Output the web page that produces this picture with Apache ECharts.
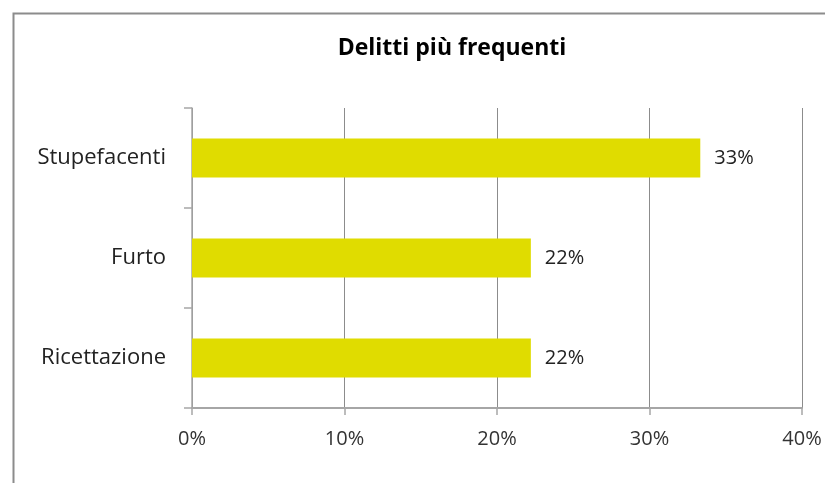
<!DOCTYPE html>
<html><head><meta charset="utf-8">
<script src="https://cdn.jsdelivr.net/npm/echarts@6/dist/echarts.min.js"></script>
<style>html,body{margin:0;padding:0;background:#fff}#c{width:825px;height:483px}</style>
</head><body><div id="c"></div>
<script>
const categories = ['Ricettazione', 'Furto', 'Stupefacenti'];
const values = [22.22, 22.22, 33.33];
const xTicks = [0, 10, 20, 30, 40];
const titleText = 'Delitti più frequenti';

const FONT = '"Open Sans", "Noto Sans", sans-serif';
const chart = echarts.init(document.getElementById('c'), null, {renderer: 'canvas'});
chart.setOption({
  animation: false,
  backgroundColor: '#fff',
  graphic: [{
    type: 'rect', left: 11, top: 11, shape: {width: 900, height: 600},
    style: {fill: 'none', stroke: '#8c8c8c', lineWidth: 2}, silent: true
  }],
  title: {
    text: titleText, left: 447, top: 32, textAlign: 'center',
    textStyle: {fontFamily: FONT, fontSize: 23, fontWeight: 'bold', color: '#000'}
  },
  grid: {left: 192, right: 23, top: 108, bottom: 75, containLabel: false},
  xAxis: {
    type: 'value', min: xTicks[0], max: xTicks[xTicks.length - 1], interval: 10,
    axisLine: {show: true, lineStyle: {color: '#a6a6a6', width: 2}},
    axisTick: {show: true, length: 7, lineStyle: {color: '#a6a6a6', width: 1.5}},
    splitLine: {show: true, lineStyle: {color: '#8c8c8c', width: 1}},
    axisLabel: {fontFamily: FONT, fontSize: 20, color: '#333', margin: 21, formatter: v => v + '%'}
  },
  yAxis: {
    type: 'category', data: categories,
    axisLine: {show: true, lineStyle: {color: '#a6a6a6', width: 1.5}},
    axisTick: {show: true, length: 8, lineStyle: {color: '#a6a6a6', width: 1.5}},
    axisLabel: {fontFamily: FONT, fontSize: 22, color: '#222', margin: 26}
  },
  series: [{
    type: 'bar', data: values, barWidth: 39,
    itemStyle: {color: '#e0dc00'},
    label: {show: true, position: 'right', distance: 14, fontFamily: FONT, fontSize: 20, color: '#222',
      formatter: p => Math.round(p.value) + '%'}
  }]
});
</script></body></html>
